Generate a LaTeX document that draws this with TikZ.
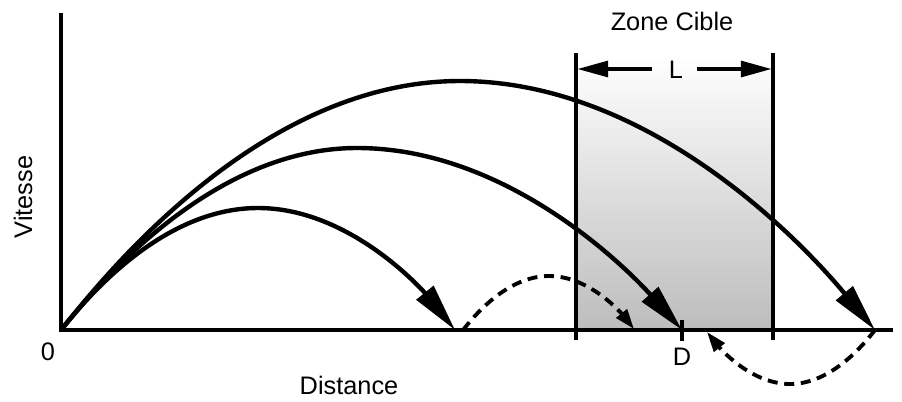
\documentclass[tikz,border=0pt]{standalone}
\usepackage{fontspec}
\setmainfont{Liberation Sans}
\usetikzlibrary{arrows.meta}
\begin{document}
\begin{tikzpicture}[x=0.75pt,y=-0.75pt,
  traj/.style={line width=3.3pt,-{Triangle[length=36pt,width=16pt]}},
  rebond/.style={line width=2.9pt,dash pattern=on 7.5pt off 5pt,-{Triangle[length=15pt,width=10pt]}},
  axe/.style={line width=2.3pt},
  lbl/.style={font=\fontsize{19}{22}\selectfont,inner sep=0pt}]
\useasboundingbox (0,0) rectangle (902,401);
% target zone
\shade[top color=white,bottom color=black!26] (576,55) rectangle (773,330);
\draw[axe] (576,53) -- (576,340);
\draw[axe] (773,53) -- (773,340);
\draw[line width=3.6pt] (576,330) -- (773,330);
% axes
\coordinate (O) at (61,330);
\draw[axe] (61,13) -- (O) -- (893,330);
\draw[axe] (682,320) -- (682,341);
% trajectories
\coordinate (A) at (455,330);
\coordinate (B) at (682,330);
\coordinate (C) at (875,330);
\draw[traj] (O) parabola bend (258,208) (A);
\draw[traj] (O) parabola bend (357,148) (B);
\draw[traj] (O) parabola bend (460,81) (C);
% rebounds
\coordinate (A2) at (463,330);
\coordinate (A3) at (634,329);
\coordinate (C3) at (707,332);
\draw[rebond] (A2) parabola bend (549,276) (A3);
\draw[rebond] (C) parabola bend (790,384) (C3);
% L dimension
\node[lbl] (L) at (676,70) {L};
\draw[line width=2.3pt,-{Triangle[length=23pt,width=12pt]}] (652,69) -- (577.5,69);
\draw[line width=2.3pt,-{Triangle[length=23pt,width=12pt]}] (697,69) -- (771.5,69);
% labels
\node[lbl] (zc) at (672,21) {Zone Cible};
\node[lbl,rotate=90] (vit) at (23,197) {Vitesse};
\node[lbl] (dist) at (349,385) {Distance};
\node[lbl] (zero) at (48,352) {0};
\node[lbl] (D) at (682,357) {D};
\end{tikzpicture}
\end{document}
